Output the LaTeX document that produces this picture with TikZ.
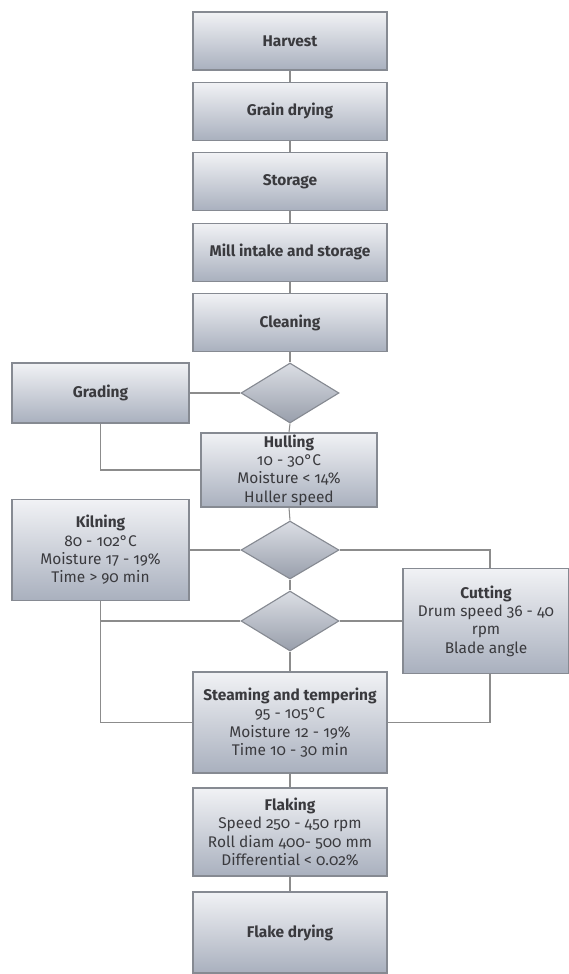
\documentclass[tikz,border=0pt]{standalone}
\usepackage{fontspec}
\setmainfont{Fira Sans}[Numbers=OldStyle]
\usetikzlibrary{shapes.geometric}
\definecolor{boxtop}{HTML}{F1F2F5}
\definecolor{boxbot}{HTML}{A9B0BE}
\definecolor{boxline}{HTML}{868A92}
\definecolor{wire}{HTML}{8C8C8C}
\definecolor{ink}{HTML}{3A3A3E}
\begin{document}
\begin{tikzpicture}
[font=\fontsize{11}{13}\selectfont, text=ink,
step0/.style={rectangle, draw=boxline, line width=0.9pt, top color=boxtop, bottom color=boxbot, inner sep=0pt, align=center, minimum width=48.5mm},
side0/.style={step0, minimum width=44.25mm},
choice/.style={diamond, draw=boxline, line width=0.8pt, top color=boxtop!70!boxbot, bottom color=boxbot!90!black, inner sep=0pt, aspect=1.63, minimum width=24.5mm, minimum height=15mm},
wire0/.style={draw=wire, line width=0.75pt}
]

\useasboundingbox (0,0) rectangle (14.225,-24.35);

\node[step0, minimum height=14.5mm] (harvest) at (7.25,-1.025) {\bfseries Harvest};
\node[step0, minimum height=14.5mm] (drying) at (7.25,-2.785) {\bfseries Grain drying};
\node[step0, minimum height=14.5mm] (storage) at (7.25,-4.545) {\bfseries Storage};
\node[step0, minimum height=14.5mm] (intake) at (7.25,-6.305) {\bfseries Mill intake and storage};
\node[step0, minimum height=14.5mm] (cleaning) at (7.25,-8.065) {\bfseries Cleaning};

\node[choice] (fork1) at (7.25,-9.825) {};
\node[side0, minimum height=15mm] (grading) at (2.5125,-9.825) {\bfseries Grading};
\node[step0, minimum width=44mm, minimum height=18.5mm] (hulling) at (7.225,-11.75)
  {{\bfseries Hulling}\\10 - 30°C\\Moisture < 14\%\\Huller speed};

\node[choice, minimum height=14.5mm] (fork2) at (7.25,-13.75) {};
\node[side0, minimum height=25.25mm] (kilning) at (2.5125,-13.75)
  {{\bfseries Kilning}\\80 - 102°C\\Moisture 17 - 19\%\\Time > 90 min};
\node[choice] (fork3) at (7.25,-15.525) {};
\node[step0, minimum width=41.5mm, minimum height=26.25mm] (cutting) at (12.15,-15.525)
  {{\bfseries Cutting}\\Drum speed 36 - 40\\rpm\\Blade angle};

\node[step0, minimum height=25.25mm] (steaming) at (7.25,-18.0625)
  {{\bfseries Steaming and tempering}\\95 - 105°C\\Moisture 12 - 19\%\\Time 10 - 30 min};
\node[step0, minimum height=22mm] (flaking) at (7.25,-20.8)
  {{\bfseries Flaking}\\Speed 250 - 450 rpm\\Roll diam 400- 500 mm\\Differential < 0.02\%};
\node[step0, minimum height=20.25mm] (flakedry) at (7.25,-23.3125) {\bfseries Flake drying};

\foreach \a/\b in {harvest/drying, drying/storage, storage/intake, intake/cleaning,
  cleaning/fork1, fork1/hulling, hulling/fork2, fork2/fork3, fork3/steaming,
  steaming/flaking, flaking/flakedry} {
  \draw[wire0] (\a.south) -- (\b.north);
}

\draw[wire0] (fork1.west) -- (grading.east);
\draw[wire0] (grading.south) |- (hulling.west);
\draw[wire0] (fork2.west) -- (kilning.east);
\draw[wire0] (fork2.east) -| ([xshift=1mm]cutting.north);
\draw[wire0] (kilning.south) |- (fork3.west);
\draw[wire0] (fork3.east) -- (cutting.west);
\draw[wire0] (kilning.south) |- (steaming.west);
\draw[wire0] ([xshift=1mm]cutting.south) |- (steaming.east);

\end{tikzpicture}
\end{document}
